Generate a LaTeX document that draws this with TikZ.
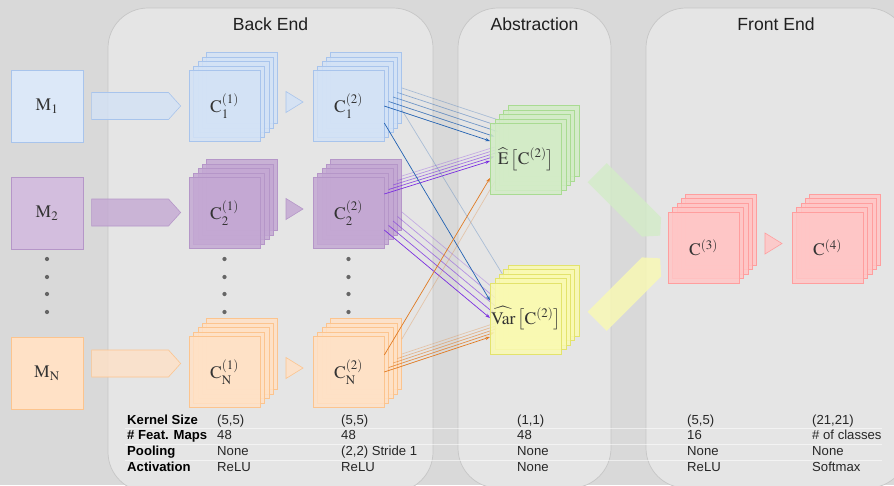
\documentclass[tikz,border=0pt]{standalone}
\usepackage{mathptmx}
\usepackage[no-math]{fontspec}
\setmainfont{Liberation Sans}
\usetikzlibrary{arrows.meta,calc,shapes.symbols}

\definecolor{canvas}{HTML}{D9D9D9}
\definecolor{panelbg}{HTML}{E5E5E5}
\definecolor{panelln}{HTML}{C6C6C6}
\definecolor{bluefill}{HTML}{D3E2F6}
\definecolor{blueline}{HTML}{A8C4EC}
\definecolor{bluelink}{HTML}{2262B2}
\definecolor{purplefill}{HTML}{C4A8D3}
\definecolor{purpleline}{HTML}{B596C8}
\definecolor{purplelink}{HTML}{7A2EE0}
\definecolor{orangefill}{HTML}{FFE1C6}
\definecolor{orangeline}{HTML}{FCC48E}
\definecolor{orangelink}{HTML}{E07A22}
\definecolor{greenfill}{HTML}{D3ECC7}
\definecolor{greenline}{HTML}{A9DB92}
\definecolor{yellowfill}{HTML}{FAFAB2}
\definecolor{yellowline}{HTML}{E3E36C}
\definecolor{redfill}{HTML}{FFC6C6}
\definecolor{redline}{HTML}{FF9E9E}

\tikzset{
  panel/.style={fill=panelbg, draw=panelln, line width=.6pt, rounded corners=12mm},
  title/.style={font=\fontsize{15}{18}\selectfont, text=black!88},
  input/.style={draw, line width=.6pt, minimum size=21.6mm, inner sep=0pt,
    font=\fontsize{15}{18}\selectfont, text=black!80},
  fmap/.style={draw, line width=.5pt, minimum size=21.3mm, inner sep=0pt,
    fill opacity=.85, text opacity=1, font=\fontsize{15}{18}\selectfont, text=black!80},
  fat/.style={signal, signal to=east, signal pointer angle=96, minimum width=26.7mm,
    minimum height=8.1mm, inner sep=0pt, fill opacity=.8, line width=.5pt, anchor=west},
  pool/.style={line width=.5pt, fill opacity=.85},
  link/.style={line width=.6pt, -{Stealth[length=1.4mm, width=1mm]}},
  rule/.style={draw=white, line width=.8pt, opacity=.55},
  tabhead/.style={anchor=base west, inner sep=0pt,
    font=\fontsize{11.2}{13}\selectfont\bfseries, text=black},
  tabcell/.style={anchor=base west, inner sep=0pt,
    font=\fontsize{11.2}{13}\selectfont, text=black!85}
}

% a stack of feature maps, drawn back to front
\newcommand{\fmaps}[4]{%
  \foreach \k in {4,...,1}
    \node[fmap, fill=#3fill, draw=#3line, xshift=\k*1.32mm, yshift=\k*1.35mm] (#1-\k) at (#2) {};
  \node[fmap, fill=#3fill, draw=#3line, alias=#1-0] (#1) at (#2) {#4};
}
% pooling triangle to the right of a stack
\newcommand{\pool}[2]{%
  \draw[pool, fill=#2fill, draw=#2line] ($(#1)+(61.5,-14.5)$) -- ++(17,10.5) -- ++(-17,10.5) -- cycle;
}

\begin{document}
\begin{tikzpicture}[x=0.3mm,y=-0.3mm]

  \fill[canvas] (0,0) rectangle (894,485);
  \clip (0,0) rectangle (894,485);

  % panels
  \draw[panel] (108,8) rectangle (433,492);
  \draw[panel] (458,8) rectangle (611,488);
  \draw[panel] (646,8) rectangle (908,488);

  \node[title] (tback)  at (270.5,24) {Back End};
  \node[title] (tabs)   at (534.5,24) {Abstraction};
  \node[title] (tfront) at (776,24)   {Front End};

  % table rules
  \foreach \y in {428,444,460}
    \draw[rule] (125,\y) -- (882,\y);

  % inputs
  \node[input, fill=bluefill!80!white, draw=blueline]     (m1) at (47,106)   {$\mathrm{M}_1$};
  \node[input, fill=purplefill!75!white, draw=purpleline] (m2) at (47,213)   {$\mathrm{M}_2$};
  \node[input, fill=orangefill, draw=orangeline]          (mn) at (47,373.5) {$\mathrm{M}_\mathrm{N}$};

  % back end
  \fmaps{c11}{224.5,106}{blue}{$\mathrm{C}^{(1)}_1$}
  \fmaps{c12}{348.5,106}{blue}{$\mathrm{C}^{(2)}_1$}
  \fmaps{c21}{224.5,213}{purple}{$\mathrm{C}^{(1)}_2$}
  \fmaps{c22}{348.5,213}{purple}{$\mathrm{C}^{(2)}_2$}
  \fmaps{cn1}{224.5,372}{orange}{$\mathrm{C}^{(1)}_\mathrm{N}$}
  \fmaps{cn2}{348.5,372}{orange}{$\mathrm{C}^{(2)}_\mathrm{N}$}
  \pool{c11}{blue}
  \pool{c21}{purple}
  \pool{cn1}{orange}

  \node[fat, fill=bluefill, draw=blueline]     (a1) at ($(m1.east)+(8,0)$) {};
  \node[fat, fill=purplefill, draw=purpleline] (a2) at ($(m2.east)+(8,-0.5)$) {};
  \node[fat, fill=orangefill, draw=orangeline] (an) at ($(mn.east)+(8,-10)$) {};

  \foreach \x in {47,224.5,348.5}
    \foreach \y in {259,277,294,312}
      \fill[black!60] (\x,\y) circle (1.8pt);

  % abstraction
  \path (526,159) coordinate (ep) (526,318.5) coordinate (vp);

  \foreach \k/\o in {4/.3,3/.45,2/.6,1/.8,0/1}{
    \draw[link, draw=bluelink, opacity=\o] (c12-\k.east) -- ($(ep)+(-36+4.4*\k,-18-4.5*\k)$);
    \draw[link, draw=purplelink, opacity=\o] ($(c22-\k.east)+(0,-19)$) -- ($(ep)+(-36+4.4*\k,2-4.5*\k)$);
    \draw[link, draw=purplelink, opacity=\o] ($(c22-\k.east)+(0,17)$) -- ($(vp)+(-36+4.4*\k,-.5-4.5*\k)$);
    \draw[link, draw=orangelink, opacity=\o] (cn2-\k.east) -- ($(vp)+(-36+4.4*\k,18.5-4.5*\k)$);
  }
  \draw[link, draw=bluelink] ($(c12.east)+(0,17)$) -- ($(vp)+(-36,-18)$);
  \draw[link, draw=bluelink, opacity=.3] ($(c12-4.east)+(0,22)$) -- ($(vp)+(-18.4,-36)$);
  \draw[link, draw=orangelink] ($(cn2.east)+(0,-17)$) -- ($(ep)+(-36,19)$);
  \draw[link, draw=orangelink, opacity=.3] ($(cn2-4.east)+(0,-15)$) -- ($(ep)+(-18.4,1)$);

  \fmaps{e}{ep}{green}{$\widehat{\mathrm{E}}\,\bigl[\mathrm{C}^{(2)}\bigr]$}
  \fmaps{var}{vp}{yellow}{$\widehat{\mathrm{Var}}\,\bigl[\mathrm{C}^{(2)}\bigr]$}

  \node[fat, fill=greenfill, draw=none, rotate=-45] (ga) at (597,172.5) {};
  \node[fat, fill=yellowfill, draw=none, rotate=45] (ya) at (597,321.5) {};

  % front end
  \fmaps{c3}{703.5,247.5}{red}{$\mathrm{C}^{(3)}$}
  \fmaps{c4}{827.5,247.5}{red}{$\mathrm{C}^{(4)}$}
  \pool{c3}{red}

  % layer settings
  \foreach \y/\h/\a/\b/\c/\d/\e [count=\r] in {
      424/Kernel Size/{(5,5)}/{(5,5)}/{(1,1)}/{(5,5)}/{(21,21)},
      439.5/\# Feat. Maps/48/48/48/16/\# of classes,
      455/Pooling/None/{(2,2) Stride 1}/None/None/None,
      471/Activation/ReLU/ReLU/None/ReLU/Softmax}{
    \node[tabhead] (h\r)   at (127,\y) {\h};
    \node[tabcell] (v\r-1) at (217,\y) {\a};
    \node[tabcell] (v\r-2) at (341,\y) {\b};
    \node[tabcell] (v\r-3) at (517,\y) {\c};
    \node[tabcell] (v\r-4) at (687,\y) {\d};
    \node[tabcell] (v\r-5) at (812,\y) {\e};
  }

\end{tikzpicture}
\end{document}
